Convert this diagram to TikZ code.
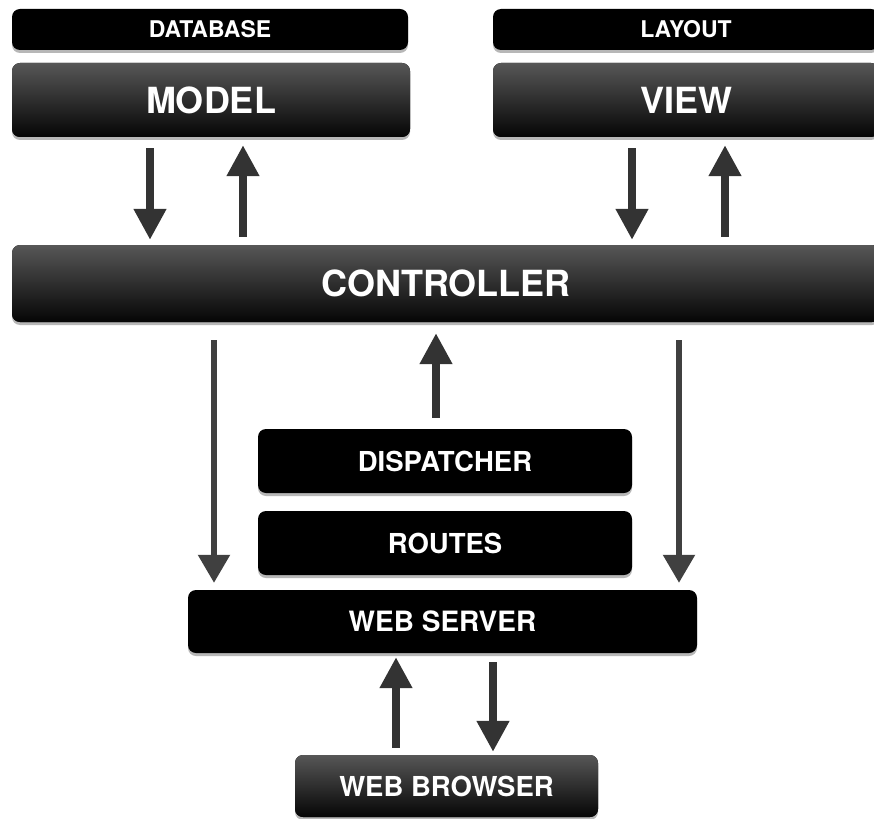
\documentclass[tikz,border=0pt]{standalone}
\usepackage{fontspec}
\setmainfont{TeX Gyre Heros}
\usetikzlibrary{arrows.meta,shadows}

\tikzset{
  box/.style={rounded corners=8pt, fill=black, text=white, inner sep=0pt,
    anchor=center, drop shadow={shadow xshift=0pt, shadow yshift=-3pt, fill=black!35, opacity=0.8}},
  shaded box/.style={box, top color=black!66, middle color=black!93, bottom color=black!98},
  labelfont/.style={font=\fontsize{#1}{#1}\selectfont\bfseries},
  arr/.style={line width=7.5pt, draw=black!80, line cap=butt,
    -{Triangle[width=31pt,length=31pt]}},
  thinarr/.style={line width=5.5pt, draw=black!75, line cap=butt,
    -{Triangle[width=31pt,length=28pt]}},
}

\begin{document}
\begin{tikzpicture}[x=1pt,y=-1pt]
  \path[use as bounding box, fill=white] (0,0) rectangle (874,818);
  \clip (0,0) rectangle (874,818);

  % top row: data layers
  \node[box, minimum width=396pt, minimum height=41pt, labelfont=23] (db) at (210,29.5) {DATABASE};
  \node[box, minimum width=386pt, minimum height=41pt, labelfont=23] (layout) at (686,29.5) {LAYOUT};
  \node[shaded box, minimum width=398pt, minimum height=74pt, labelfont=36] (model) at (211,100) {MODEL};
  \node[shaded box, minimum width=386pt, minimum height=74pt, labelfont=36] (view) at (686,100) {VIEW};

  % controller bar
  \node[shaded box, minimum width=868pt, minimum height=77pt, labelfont=36] (ctrl) at (446,283.5) {CONTROLLER};

  % request handling stack
  \node[box, minimum width=374pt, minimum height=64pt, labelfont=27.5] (disp) at (445,461) {DISPATCHER};
  \node[box, minimum width=374pt, minimum height=64pt, labelfont=27.5] (routes) at (445,543) {ROUTES};
  \node[box, minimum width=509pt, minimum height=63pt, labelfont=28] (ws) at (442.5,621.5) {WEB SERVER};
  \node[shaded box, minimum width=303pt, minimum height=62pt, labelfont=27.5] (wb) at (446.5,786) {WEB BROWSER};

  % model <-> controller
  \draw[arr, shorten <=11pt, shorten >=5pt] (150,0 |- model.south) -- (150,0 |- ctrl.north);
  \draw[arr, shorten <=8pt, shorten >=8pt] (243,0 |- ctrl.north) -- (243,0 |- model.south);
  % view <-> controller
  \draw[arr, shorten <=11pt, shorten >=5pt] (632,0 |- view.south) -- (632,0 |- ctrl.north);
  \draw[arr, shorten <=8pt, shorten >=8pt] (725,0 |- ctrl.north) -- (725,0 |- view.south);

  % controller -> web server
  \draw[thinarr, shorten <=18pt, shorten >=7pt] (214,0 |- ctrl.south) -- (214,0 |- ws.north);
  \draw[thinarr, shorten <=18pt, shorten >=7pt] (679,0 |- ctrl.south) -- (679,0 |- ws.north);
  % dispatcher -> controller
  \draw[arr, shorten <=11pt, shorten >=11pt] (436,0 |- disp.north) -- (436,0 |- ctrl.south);

  % web server <-> browser
  \draw[arr, shorten <=7pt, shorten >=4pt] (396,0 |- wb.north) -- (396,0 |- ws.south);
  \draw[arr, shorten <=9pt, shorten >=3pt] (493,0 |- ws.south) -- (493,0 |- wb.north);
\end{tikzpicture}
\end{document}
